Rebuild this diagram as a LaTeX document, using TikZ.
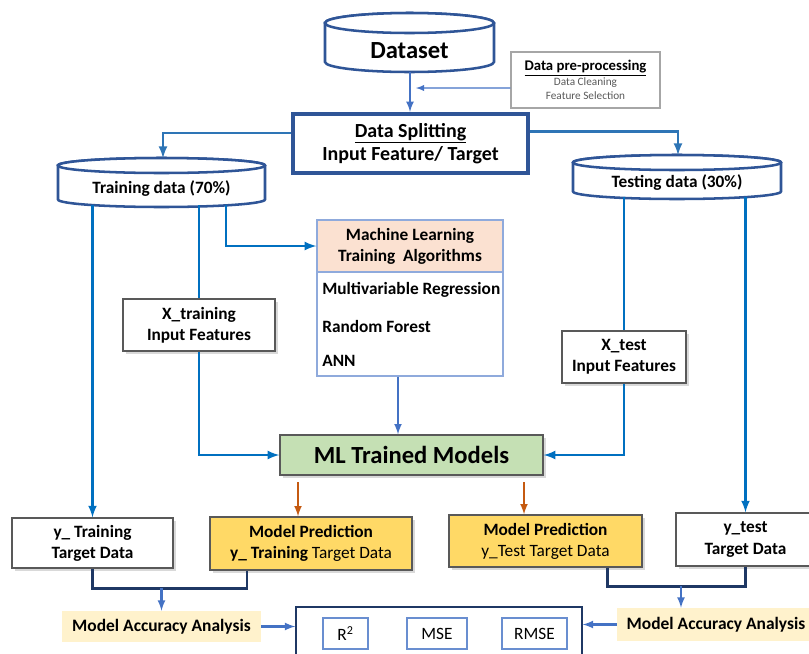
\documentclass[tikz,border=0pt]{standalone}
\usepackage{fontspec}
\setmainfont{Carlito}
\usepackage{color}
\usepackage{tikz}
\usetikzlibrary{arrows}
\usetikzlibrary{shadows}
\definecolor{drumblue}{HTML}{2F5597}
\definecolor{splitblue}{HTML}{2E75B6}
\definecolor{linkblue}{HTML}{0070C0}
\definecolor{softblue}{HTML}{4472C4}
\definecolor{navyline}{HTML}{1F3864}
\definecolor{boxgray}{HTML}{595959}
\definecolor{ppgray}{HTML}{A6A6A6}
\definecolor{algblue}{HTML}{8FAADC}
\definecolor{peach}{HTML}{FBE1D1}
\definecolor{mlgreen}{HTML}{C5E0B4}
\definecolor{predgold}{HTML}{FFD966}
\definecolor{cream}{HTML}{FFF2CC}
\definecolor{rust}{HTML}{C55A11}

\begin{document}
\begin{tikzpicture}[x=0.025cm,y=-0.025cm,
    drum/.style={draw=drumblue,line width=1.8pt,fill=white},
    txt/.style={font=\bfseries\fontsize{12.3}{15}\selectfont,inner sep=0pt},
    box/.style={draw=boxgray,line width=1pt,fill=white,align=center,
      font=\bfseries\fontsize{12.3}{15}\selectfont,
      drop shadow={shadow xshift=2pt,shadow yshift=-2pt,opacity=0.3}},
    metric/.style={draw=softblue!80,line width=1pt,minimum height=0.775cm,
      font=\fontsize{12.3}{15}\selectfont},
    link/.style={draw=linkblue,line width=1.8pt},
    soft/.style={draw=softblue,line width=1.5pt},
    navy/.style={draw=navyline,line width=2pt},
    rustlink/.style={draw=rust,line width=1.5pt}]
  \useasboundingbox (0,0) rectangle (809,653);

  \draw[drum] (325,23) -- (325,62) arc[start angle=180,end angle=0,x radius=84.5,y radius=10]
    -- (494,23) arc[start angle=0,end angle=-180,x radius=84.5,y radius=10] -- cycle;
  \draw[drum] (409.5,23) ellipse[x radius=84.5,y radius=10];
  \node[txt,font=\bfseries\fontsize{17.5}{20}\selectfont] (ds) at (409.5,51) {Dataset};

  \draw[drum] (58,165.5) -- (58,199.5) arc[start angle=180,end angle=0,x radius=103.5,y radius=7.5]
    -- (265,165.5) arc[start angle=0,end angle=-180,x radius=103.5,y radius=7.5] -- cycle;
  \draw[drum] (161.5,165.5) ellipse[x radius=103.5,y radius=7.5];
  \node[txt] (trn) at (161.5,189) {Training data (70\%)};

  \draw[drum] (573,162.5) -- (573,191.5) arc[start angle=180,end angle=0,x radius=104,y radius=7.5]
    -- (781,162.5) arc[start angle=0,end angle=-180,x radius=104,y radius=7.5] -- cycle;
  \draw[drum] (677,162.5) ellipse[x radius=104,y radius=7.5];
  \node[txt] (tst) at (677,183) {Testing data (30\%)};

  \node[draw=ppgray,line width=1pt,minimum width=3.725cm,minimum height=1.4cm,align=center,
    font=\fontsize{8}{10.3}\selectfont,text=boxgray] (pp) at (585.5,80)
    {{\color{black}\fontsize{10.5}{10.3}\selectfont\bfseries\underline{Data pre-processing}}\\
     Data Cleaning\\Feature Selection};

  \node[draw=drumblue,line width=3pt,minimum width=5.875cm,minimum height=1.475cm,align=center,
    font=\bfseries\fontsize{14.2}{16.4}\selectfont] (dsp) at (410.5,143.5)
    {\underline{Data Splitting}\\Input Feature/ Target};

  \node[draw=algblue,line width=1pt,fill=peach,minimum width=4.65cm,minimum height=1.3cm,
    align=center,font=\bfseries\fontsize{12.3}{15}\selectfont] (mla) at (410,246)
    {Machine Learning\\Training~~Algorithms};
  \node[draw=algblue,line width=1pt,minimum width=4.65cm,minimum height=2.6cm] (mlb) at (410,324) {};
  \node[txt,anchor=west] (mlr) at (322,290) {Multivariable Regression};
  \node[txt,anchor=west] (rf) at (322,326) {Random Forest};
  \node[txt,anchor=west] (ann) at (322,361) {ANN};

  \node[box,minimum width=3.8cm,minimum height=1.3cm] (xtr) at (199,325) {X\_training\\Input Features};
  \node[box,minimum width=3.1cm,minimum height=1.3cm] (xts) at (624,357) {X\_test\\Input Features};

  \node[box,fill=mlgreen,minimum width=6.575cm,minimum height=1cm,
    font=\bfseries\fontsize{17.5}{20}\selectfont] (mlt) at (411.5,455) {ML Trained Models};

  \node[box,minimum width=4.025cm,minimum height=1.25cm] (ytr) at (92.5,543) {y\_ Training\\Target Data};
  \node[box,fill=predgold,minimum width=5.05cm,minimum height=1.325cm] (mp1) at (311,543.5)
    {Model Prediction\\y\_ Training {\mdseries Target Data}};
  \node[box,fill=predgold,minimum width=4.825cm,minimum height=1.3cm] (mp2) at (545.5,541)
    {Model Prediction\\{\mdseries y\_Test Target Data}};
  \node[box,minimum width=3.475cm,minimum height=1.325cm] (yts) at (745.5,539.5) {y\_test\\Target Data};

  \node[fill=cream,minimum width=4.975cm,minimum height=0.775cm,
    font=\bfseries\fontsize{12.4}{15}\selectfont] (maa1) at (161.5,626.5) {Model Accuracy Analysis};
  \node[fill=cream,minimum width=4.95cm,minimum height=0.825cm,
    font=\bfseries\fontsize{12.4}{15}\selectfont] (maa2) at (716,624.5) {Model Accuracy Analysis};

  \node[draw=navyline,line width=1pt,minimum width=7.15cm,minimum height=2.325cm] (met) at (439,653.5) {};
  \node[metric,minimum width=1.125cm] (r2) at (345.5,633.5) {R\textsuperscript{2}};
  \node[metric,minimum width=1.5cm] (mse) at (437,633.5) {MSE};
  \node[metric,minimum width=1.625cm] (rmse) at (534.5,633.5) {RMSE};

  \coordinate (dsb) at (410,72);
  \coordinate (ppin) at (416,88);
  \coordinate (trtop) at (163,158);
  \coordinate (tstop) at (678,155);
  \coordinate (trb) at (0,205);
  \coordinate (trc) at (226,205);
  \coordinate (tsb) at (0,197);
  \coordinate (o1) at (298,482);
  \coordinate (o2) at (524,482);
  \coordinate (j1) at (161.5,588);
  \coordinate (j2) at (681,586);

  \draw[soft,-latex] (dsb) -- (dsb |- dsp.north);
  \draw[soft,line width=1pt,-latex] ([yshift=-0.2cm]pp.west) -- (ppin);
  \draw[draw=splitblue,line width=1.8pt,-latex] ([yshift=0.26cm]dsp.west) -| (trtop);
  \draw[draw=splitblue,line width=1.8pt,-latex] ([yshift=0.3cm]dsp.east) -| (tstop);

  \draw[link,-latex] (ytr.north |- trb) -- (ytr.north);
  \draw[link] (xtr.north |- trb) -- (xtr.north);
  \draw[link,-latex] (xtr.south) |- (mlt.west);
  \draw[link,-latex] (trc) |- (mla.west);
  \draw[link] (xts.north |- tsb) -- (xts.north);
  \draw[link,-latex] (xts.south) |- (mlt.east);
  \draw[link,-latex] (yts.north |- tsb) -- (yts.north);

  \draw[soft,-latex] ([xshift=-0.3cm]mlb.south) -- ([xshift=-0.3cm]mlb.south |- mlt.north);
  \draw[rustlink,-latex] (o1) -- (o1 |- mp1.north);
  \draw[rustlink,-latex] (o2) -- (o2 |- mp2.north);

  \draw[navy] (ytr.south) -- ++(0,20) -| ([xshift=-1.6cm]mp1.south);
  \draw[navy] ([xshift=1.54cm]mp2.south) -- ++(0,19) -| (yts.south);
  \draw[soft,-latex] (j1) -- (maa1.north);
  \draw[soft,-latex] (j2) -- (j2 |- maa2.north);
  \draw[soft,-latex] (maa1.east) -- (maa1.east -| met.west);
  \draw[soft,-latex] (maa2.west) -- (maa2.west -| met.east);
\end{tikzpicture}
\end{document}
